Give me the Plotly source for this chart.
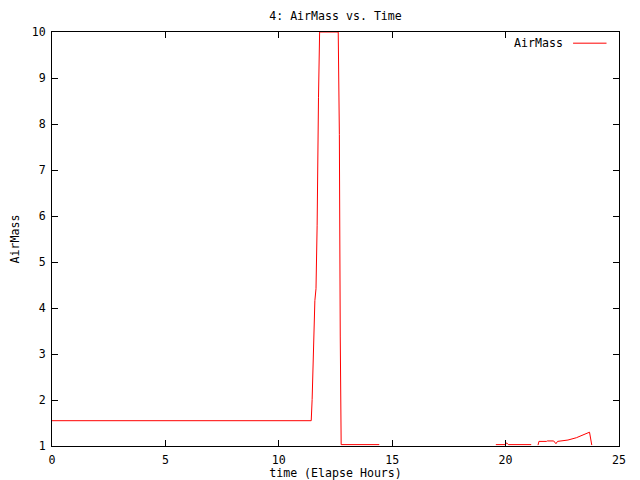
import plotly.graph_objects as go

# Data (None = gap in the data)
hours = [0.0, 11.43, 11.47, 11.51, 11.55, 11.59, 11.64, 11.69, 11.75, 11.80,
         12.62, 12.67, 12.71, 12.75, 14.43, None,
         19.57, 20.00, 20.04, 20.12, 21.13, None,
         21.43, 21.47, 21.80, 21.84, 22.12, 22.22, 22.29, 22.50, 22.75,
         23.12, 23.31, 23.53, 23.70, 23.80]
airmass = [1.55, 1.55, 2.01, 2.95, 3.67, 4.16, 4.42, 5.80, 8.57, 10.0,
           10.0, 7.77, 3.37, 1.03, 1.03, None,
           1.03, 1.03, 1.07, 1.03, 1.03, None,
           1.02, 1.10, 1.10, 1.11, 1.11, 1.05, 1.10, 1.11, 1.13,
           1.18, 1.22, 1.27, 1.30, 1.02]

x_ticks = [0, 5, 10, 15, 20, 25]
y_ticks = [1, 2, 3, 4, 5, 6, 7, 8, 9, 10]

title_text = "4: AirMass vs. Time"
x_title = "time (Elapse Hours)"
y_title = "AirMass"
series_name = "AirMass"

FONT = "DejaVu Sans Mono"
FS = 11.6

# the page body has an 8px margin, so the figure is sized 632x472
W, H = 632, 472

fig = go.Figure()
fig.add_trace(go.Scatter(x=hours, y=airmass, mode="lines", name=series_name,
                         line=dict(color="#ff0000", width=1),
                         connectgaps=False, showlegend=False))

axis_common = dict(showline=True, linecolor="black", linewidth=1, mirror="allticks",
                   ticks="inside", ticklen=6, tickcolor="black", tickwidth=1,
                   showgrid=False, zeroline=False, automargin=False,
                   tickfont=dict(family=FONT, size=FS, color="black"))

fig.update_layout(
    width=W, height=H,
    margin=dict(l=43.5, r=20.5, t=24, b=34, autoexpand=False),
    paper_bgcolor="white", plot_bgcolor="white",
    title=dict(text=title_text, x=327.5 / W, xanchor="center", y=1 - 7.5 / H, yanchor="middle",
               font=dict(family=FONT, size=FS, color="black")),
    xaxis=dict(range=[0, 25], tickvals=x_ticks, ticktext=[str(v) for v in x_ticks],
               ticklabelstandoff=3,
               title=dict(text=x_title, standoff=4, font=dict(family=FONT, size=FS, color="black")),
               **axis_common),
    yaxis=dict(range=[1, 10], tickvals=y_ticks, ticktext=[str(v) for v in y_ticks],
               ticklabelstandoff=3,
               title=dict(text=y_title, standoff=13, font=dict(family=FONT, size=FS, color="black")),
               **axis_common),
    showlegend=False,
)

# gnuplot-style key: text followed by line sample
fig.add_annotation(xref="paper", yref="paper", x=0.905, y=0.973, text=series_name,
                   showarrow=False, xanchor="right", yanchor="middle",
                   font=dict(family=FONT, size=FS, color="black"))
fig.add_shape(type="line", xref="paper", yref="paper", x0=0.919, x1=0.978, y0=0.973, y1=0.973,
              line=dict(color="#ff0000", width=1))

fig.write_html("out.html")
